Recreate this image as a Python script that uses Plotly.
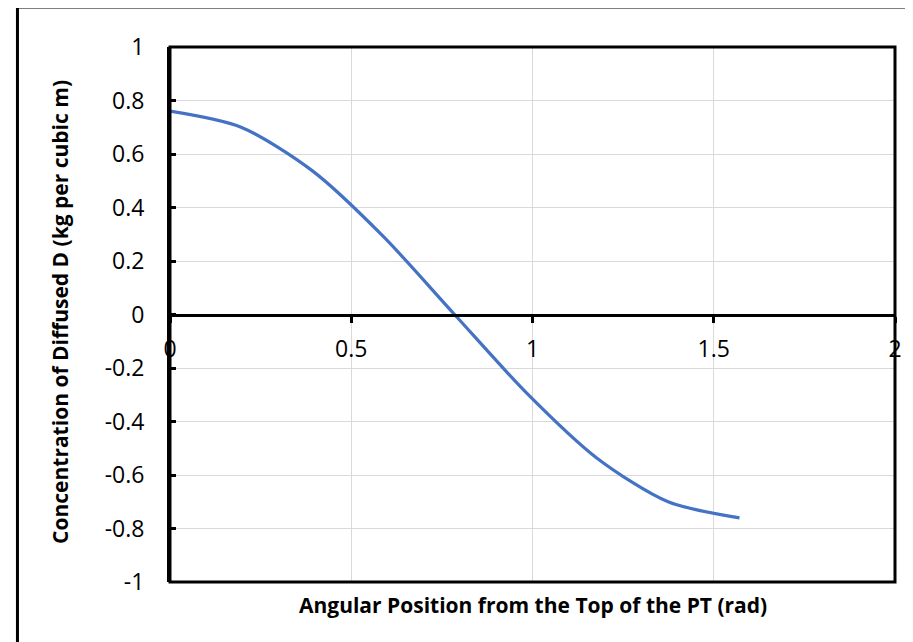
import plotly.graph_objects as go

# Data
angle_rad = [0.0, 0.196, 0.393, 0.589, 0.785, 0.982, 1.178, 1.374, 1.571]
concentration = [0.76, 0.70, 0.537, 0.291, 0.0, -0.291, -0.537, -0.70, -0.76]

x_ticks = [0, 0.5, 1, 1.5, 2]
x_tick_labels = ["0", "0.5", "1", "1.5", "2"]
y_ticks = [1, 0.8, 0.6, 0.4, 0.2, 0, -0.2, -0.4, -0.6, -0.8, -1]
y_tick_labels = ["1", "0.8", "0.6", "0.4", "0.2", "0", "-0.2", "-0.4", "-0.6", "-0.8", "-1"]

x_title = "Angular Position from the Top of the PT (rad)"
y_title = "Concentration of Diffused D (kg per cubic m)"

FONT = "Open Sans"
TICK_SIZE = 23
TITLE_SIZE = 21

fig = go.Figure()
fig.add_trace(go.Scatter(
    x=angle_rad, y=concentration, mode="lines",
    line=dict(color="#4472C4", width=3.2, shape="spline", smoothing=0.8),
    showlegend=False, hoverinfo="skip",
))

fig.update_layout(
    width=905, height=634,
    margin=dict(l=162, r=11, t=39, b=60),
    paper_bgcolor="white", plot_bgcolor="white",
    font=dict(family=FONT, size=TICK_SIZE, color="black"),
    xaxis=dict(
        range=[0, 2], tickvals=x_ticks, ticktext=x_tick_labels,
        showgrid=True, gridcolor="#d9d9d9", gridwidth=1,
        zeroline=False,
        showline=True, linecolor="black", linewidth=3,
        anchor="free", position=0.5,
        ticks="outside", ticklen=6, tickwidth=3, tickcolor="black",
        ticklabelstandoff=7,
        tickfont=dict(family=FONT, size=TICK_SIZE, color="black"),
    ),
    yaxis=dict(
        range=[-1, 1], tickvals=y_ticks, ticktext=y_tick_labels,
        showgrid=True, gridcolor="#d9d9d9", gridwidth=1,
        zeroline=False,
        showline=True, linecolor="black", linewidth=3,
        ticks="inside", ticklen=6, tickwidth=3, tickcolor="black",
        ticklabelstandoff=18,
        tickfont=dict(family=FONT, size=TICK_SIZE, color="black"),
    ),
)

# axis titles
fig.add_annotation(
    text=x_title, xref="paper", yref="paper", x=0.5, y=-0.043,
    xanchor="center", yanchor="middle", showarrow=False,
    font=dict(family=FONT, size=TITLE_SIZE, color="black", weight="bold"),
)
fig.add_annotation(
    text=y_title, xref="paper", yref="paper", x=-0.1516, y=0.505,
    xanchor="center", yanchor="middle", showarrow=False, textangle=-90,
    font=dict(family=FONT, size=TITLE_SIZE, color="black", weight="bold"),
)

# plot-area border
fig.add_shape(type="rect", xref="paper", yref="paper", x0=0, x1=1, y0=0, y1=1,
              line=dict(color="black", width=3), layer="above")
# outer chart border (partially outside the picture)
fig.add_shape(type="rect", xref="paper", yref="paper", x0=-0.2104, x1=1.03, y0=-0.14, y1=1.0748,
              line=dict(color="black", width=3), layer="above")

fig.write_html("out.html")
